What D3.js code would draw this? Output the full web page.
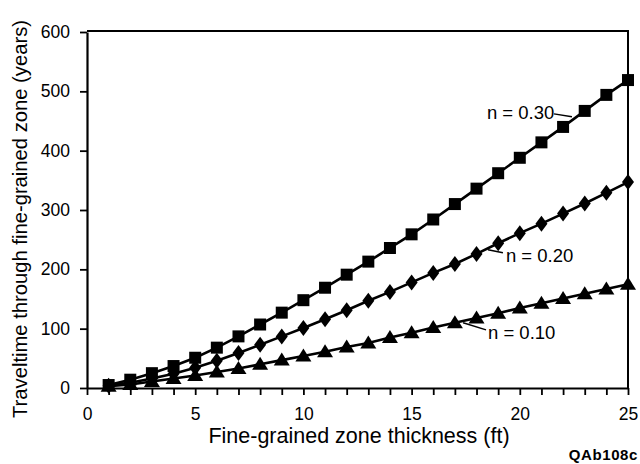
<!DOCTYPE html>
<html>
<head>
<meta charset="utf-8">
<script src="https://cdn.jsdelivr.net/npm/d3@7"></script>
<style>
  html, body { margin: 0; padding: 0; background: #fff; }
  svg { display: block; font-family: "Liberation Sans", Arial, Helvetica, sans-serif; }
</style>
</head>
<body>
<svg id="chart" width="640" height="464"></svg>
<script>
// Zone thickness (ft)
const thickness = d3.range(1, 26);

// Traveltime (years) for each porosity
const travel030 = [5, 14, 25, 37, 51, 68, 87, 107, 127, 148, 169, 191, 213, 236, 259, 284, 310, 336, 362, 388, 414, 440, 467, 494, 519];
const travel020 = [4, 9, 16, 24, 34, 46, 59, 73, 87, 101, 116, 131, 147, 162, 178, 194, 209, 226, 244, 261, 277, 294, 311, 329, 347];
const travel010 = [3, 6, 11, 16, 21, 27, 33, 40, 47, 54, 61, 69, 76, 85, 93, 102, 110, 118, 126, 135, 143, 151, 159, 167, 175];

const xTicks = [0, 5, 10, 15, 20, 25];
const yTicks = [0, 100, 200, 300, 400, 500, 600];

const seriesNames = ["n = 0.30", "n = 0.20", "n = 0.10"];
const seriesMarkers = ["square", "diamond", "triangle"];
// label anchor and leader line, in data units
const labelAt = [[18.48, 453], [19.36, 212], [18.53, 83]];
const leaders = [[[21.58, 462], [22.41, 457]], [[18.53, 233], [19.22, 228]], [[17.38, 110], [18.44, 98]]];

const series = [travel030, travel020, travel010].map((vals, i) => ({
  name: seriesNames[i],
  marker: seriesMarkers[i],
  points: vals.map((v, j) => ({ x: thickness[j], y: v })),
  label: labelAt[i],
  leader: leaders[i]
}));

const svg = d3.select("#chart");
const plotLeft = 87, plotRight = 628, plotTop = 32, plotBottom = 388;

const x = d3.scaleLinear().domain([0, 25]).range([plotLeft, plotRight]);
const y = d3.scaleLinear().domain([0, 600]).range([plotBottom, plotTop]);

// frame (top and right edges)
svg.append("path")
  .attr("d", `M${plotLeft},${plotTop - 1}H${plotRight}V${plotBottom}`)
  .attr("fill", "none").attr("stroke", "#000").attr("stroke-width", 2);

// x axis: minor ticks every foot, labels every 5
const xAxis = svg.append("g").attr("transform", `translate(0,${plotBottom})`)
  .call(d3.axisBottom(x).tickValues(d3.range(0, 26)).tickSize(7).tickSizeOuter(0)
    .tickFormat(d => xTicks.includes(d) ? d : ""));
xAxis.select(".domain").attr("stroke-width", 2.2);
xAxis.selectAll(".tick line").attr("stroke-width", 1.8);
xAxis.selectAll(".tick text").attr("font-size", 17.5).attr("dy", 0).attr("y", 32)
  .attr("fill", "#000").attr("font-family", "Liberation Sans, Arial, sans-serif");

// y axis
const yAxis = svg.append("g").attr("transform", `translate(${plotLeft},0)`)
  .call(d3.axisLeft(y).tickValues(yTicks).tickSize(7).tickSizeOuter(0));
yAxis.select(".domain").attr("stroke-width", 2.2);
yAxis.selectAll(".tick line").attr("stroke-width", 1.8);
yAxis.selectAll(".tick text").attr("font-size", 17.5).attr("x", -17)
  .attr("fill", "#000").attr("font-family", "Liberation Sans, Arial, sans-serif");

// axis titles
svg.append("text")
  .attr("x", 359).attr("y", 443)
  .attr("text-anchor", "middle").attr("font-size", 21.5)
  .text("Fine-grained zone thickness (ft)");

svg.append("text")
  .attr("transform", "translate(27,219) rotate(-90)")
  .attr("text-anchor", "middle").attr("font-size", 21)
  .attr("textLength", 398).attr("lengthAdjust", "spacingAndGlyphs")
  .text("Traveltime through fine-grained zone (years)");

svg.append("text")
  .attr("x", 638).attr("y", 460)
  .attr("text-anchor", "end").attr("font-size", 15).attr("font-weight", "bold")
  .attr("letter-spacing", 0.6)
  .text("QAb108c");

// lines
const line = d3.line().x(d => x(d.x)).y(d => y(d.y));
const g = svg.append("g");
g.selectAll("path.series").data(series).join("path")
  .attr("class", "series")
  .attr("d", d => line(d.points))
  .attr("fill", "none").attr("stroke", "#000").attr("stroke-width", 2.6);

// markers
const shapes = {
  square: "M-6,-6H6V6H-6Z",
  diamond: "M0,-8L6,0L0,8L-6,0Z",
  triangle: "M0,-7.5L8,5.5H-8Z"
};
series.forEach(s => {
  g.append("g").selectAll("path").data(s.points).join("path")
    .attr("transform", d => `translate(${x(d.x)},${y(d.y)})`)
    .attr("d", shapes[s.marker])
    .attr("fill", "#000");
});

// series labels with leader lines
series.forEach(s => {
  svg.append("text")
    .attr("x", x(s.label[0])).attr("y", y(s.label[1]))
    .attr("font-size", 18.5)
    .text(s.name);
  svg.append("line")
    .attr("x1", x(s.leader[0][0])).attr("y1", y(s.leader[0][1]))
    .attr("x2", x(s.leader[1][0])).attr("y2", y(s.leader[1][1]))
    .attr("stroke", "#000").attr("stroke-width", 1.5);
});
</script>
</body>
</html>
